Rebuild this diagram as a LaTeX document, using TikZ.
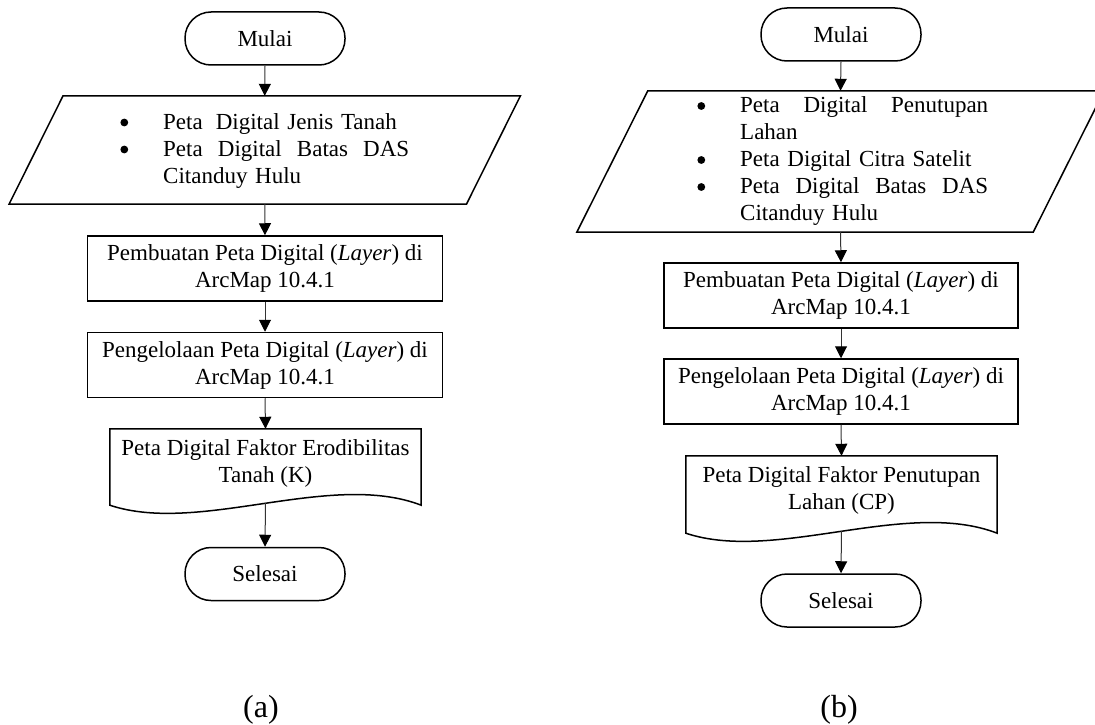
\documentclass[tikz,border=0pt]{standalone}
\usepackage{fontspec}
\setmainfont{Liberation Serif}
\usetikzlibrary{arrows.meta}
\newcommand\fsz{\fontsize{23}{27}\selectfont}
\newcommand\blt{\leavevmode\llap{\tikz[baseline=-7pt]\fill[black] (0pt,0pt) circle (3.9pt);\hspace{35pt}}}
\begin{document}
\begin{tikzpicture}[x=1pt,y=-1pt,
  shapeline/.style={draw=black,line width=1.5pt},
  term/.style={shapeline,rounded corners=26pt,minimum width=160pt,minimum height=53pt,inner sep=0pt,font=\fsz},
  proc/.style={shapeline,minimum width=355pt,minimum height=65pt,inner sep=0pt,align=center,font=\fsz},
  area/.style={draw=none,inner sep=0pt},
  txt/.style={inner sep=0pt,font=\fsz,align=left},
  conn/.style={draw=black!80,line width=1pt,-{Triangle[length=12pt,width=12pt,color=black]}},
  sublabel/.style={inner sep=0pt,font=\fontsize{32}{36}\selectfont}
]
\useasboundingbox (0,0) rectangle (1095,725);
\clip (0,0) rectangle (1095,725);

% ---------------- (a) ----------------
\node[term] (m1) at (265,38.5) {Mulai};
\node[area,minimum width=457pt,minimum height=108pt] (p1) at (264.75,150) {};
\draw[shapeline] ([xshift=27pt]p1.north west) -- ([xshift=27pt]p1.north east)
  -- ([xshift=-27pt]p1.south east) -- ([xshift=-27pt]p1.south west) -- cycle;
\node[txt,text width=246pt,anchor=west] (p1t) at (163,151)
  {\blt Peta\hspace{13pt}Digital Jenis Tanah\\
   \blt\hbox to 246pt{Peta\hfill Digital\hfill Batas\hfill DAS}\\
   Citanduy Hulu};
\node[proc] (b1) at (265,268.5) {Pembuatan Peta Digital (\textit{Layer}) di\\ArcMap 10.4.1};
\node[proc] (b2) at (265,365) {Pengelolaan Peta Digital (\textit{Layer}) di\\ArcMap 10.4.1};
\node[area,minimum width=311pt,minimum height=68pt,align=center,font=\fsz] (d1) at (265.5,463)
  {Peta Digital Faktor Erodibilitas\\Tanah (K)};
\path (d1.south west) ++(0,8) coordinate (d1bl);
\path (d1.south east) ++(0,8) coordinate (d1br);
\draw[shapeline] (d1.north west) -- (d1.north east) -- (d1br)
  .. controls +(-91,-35) and +(90,30) .. (d1bl) -- cycle;
\node[term] (s1) at (265,574) {Selesai};

\draw[conn] (m1.south) -- (p1.north);
\draw[conn] (p1.south) -- (b1.north);
\draw[conn] (b1.south) -- (b2.north);
\draw[conn] (b2.south) -- (d1.north);
\draw[conn] ([yshift=-6pt]d1.south) -- (s1.north);

% ---------------- (b) ----------------
\node[term] (m2) at (841,34.5) {Mulai};
\node[area,minimum width=456pt,minimum height=141pt] (p2) at (840.5,161.5) {};
\draw[shapeline] ([xshift=35.5pt]p2.north west) -- ([xshift=35.5pt]p2.north east)
  -- ([xshift=-35.5pt]p2.south east) -- ([xshift=-35.5pt]p2.south west) -- cycle;
\node[txt,text width=248pt,anchor=west] (p2t) at (740,161.5)
  {\blt\hbox to 248pt{Peta\hfill Digital\hfill Penutupan}\\
   Lahan\\
   \blt Peta Digital Citra Satelit\\
   \blt\hbox to 248pt{Peta\hfill Digital\hfill Batas\hfill DAS}\\
   Citanduy Hulu};
\node[proc,minimum width=354pt] (b3) at (841,295.5) {Pembuatan Peta Digital (\textit{Layer}) di\\ArcMap 10.4.1};
\node[proc,minimum width=354pt] (b4) at (841,391.5) {Pengelolaan Peta Digital (\textit{Layer}) di\\ArcMap 10.4.1};
\node[area,minimum width=311pt,minimum height=68pt,align=center,font=\fsz] (d2) at (841.5,490)
  {Peta Digital Faktor Penutupan\\Lahan (CP)};
\path (d2.south west) ++(0,9) coordinate (d2bl);
\path (d2.south east) ++(0,9) coordinate (d2br);
\draw[shapeline] (d2.north west) -- (d2.north east) -- (d2br)
  .. controls +(-91,-35) and +(90,30) .. (d2bl) -- cycle;
\node[term] (s2) at (841,600.5) {Selesai};

\draw[conn] (m2.south) -- (p2.north);
\draw[conn] (p2.south) -- (b3.north);
\draw[conn] (b3.south) -- (b4.north);
\draw[conn] (b4.south) -- (d2.north);
\draw[conn] ([yshift=-7pt]d2.south) -- (s2.north);

% ---------------- sub-labels ----------------
\node[sublabel] (la) at (261,710) {(a)};
\node[sublabel] (lb) at (839,710) {(b)};
\end{tikzpicture}
\end{document}
